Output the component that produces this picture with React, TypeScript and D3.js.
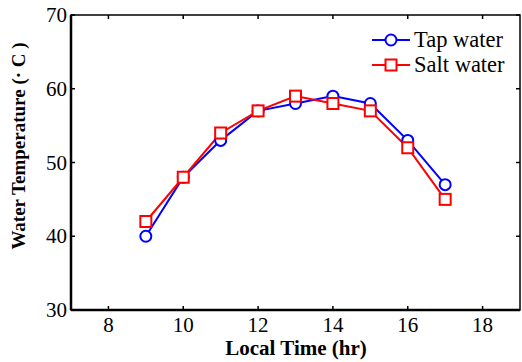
import { useEffect, useRef } from "react";
import * as d3 from "d3";

// hours of the day
const hours = [9, 10, 11, 12, 13, 14, 15, 16, 17];
const tapWater = [40, 48, 53, 57, 58, 59, 58, 53, 47];
const saltWater = [42, 48, 54, 57, 59, 58, 57, 52, 45];
const xTicks = [8, 10, 12, 14, 16, 18];
const yTicks = [30, 40, 50, 60, 70];

const App = () => {
  const svgRef = useRef<SVGSVGElement | null>(null);

  useEffect(() => {
    const svg = d3.select(svgRef.current);
    svg.selectAll("*").remove();

    const left = 71, right = 520, top = 15, bottom = 310;
    const font = "'Liberation Serif', 'Times New Roman', serif";

    const x = d3.scaleLinear().domain([7, 19]).range([left, right]);
    const y = d3.scaleLinear().domain([30, 70]).range([bottom, top]);

    // frame
    svg.append("rect")
      .attr("x", left).attr("y", top)
      .attr("width", right - left).attr("height", bottom - top)
      .attr("fill", "none").attr("stroke", "black").attr("stroke-width", 1.5);
    svg.append("line")
      .attr("x1", left).attr("x2", left).attr("y1", top).attr("y2", bottom)
      .attr("stroke", "black").attr("stroke-width", 2.5);
    svg.append("line")
      .attr("x1", left).attr("x2", right).attr("y1", bottom).attr("y2", bottom)
      .attr("stroke", "black").attr("stroke-width", 2.5);

    // ticks inward on all four sides
    xTicks.forEach((t) => {
      svg.append("line").attr("x1", x(t)).attr("x2", x(t)).attr("y1", bottom).attr("y2", bottom - 4)
        .attr("stroke", "black").attr("stroke-width", 1.5);
      svg.append("line").attr("x1", x(t)).attr("x2", x(t)).attr("y1", top).attr("y2", top + 4)
        .attr("stroke", "black").attr("stroke-width", 1.5);
      svg.append("text")
        .attr("x", x(t)).attr("y", bottom + 22)
        .attr("text-anchor", "middle")
        .style("font-family", font).style("font-size", "21px")
        .text(t);
    });
    yTicks.forEach((t) => {
      svg.append("line").attr("x1", left).attr("x2", left + 4).attr("y1", y(t)).attr("y2", y(t))
        .attr("stroke", "black").attr("stroke-width", 1.5);
      svg.append("line").attr("x1", right).attr("x2", right - 4).attr("y1", y(t)).attr("y2", y(t))
        .attr("stroke", "black").attr("stroke-width", 1.5);
      svg.append("text")
        .attr("x", left - 4).attr("y", y(t) + 7)
        .attr("text-anchor", "end")
        .style("font-family", font).style("font-size", "21px")
        .text(t);
    });

    // axis labels
    svg.append("text")
      .attr("x", 296).attr("y", 355)
      .attr("text-anchor", "middle")
      .style("font-family", font).style("font-size", "21px").style("font-weight", "bold")
      .text("Local Time (hr)");
    svg.append("text")
      .attr("transform", `translate(25,146) rotate(-90)`)
      .attr("text-anchor", "middle")
      .style("font-family", font).style("font-size", "19px").style("font-weight", "bold")
      .text("Water Temperature (\u00b7 C )");

    const line = d3.line<number>().x((_, i) => x(hours[i])).y((d) => y(d));

    const series = [
      { name: "Tap water", values: tapWater, color: "#0000ff", marker: "circle" },
      { name: "Salt water", values: saltWater, color: "#ff0000", marker: "square" },
    ];

    series.forEach((s) => {
      svg.append("path")
        .attr("d", line(s.values))
        .attr("fill", "none").attr("stroke", s.color).attr("stroke-width", 2);
    });

    const drawMarker = (g: any, cx: number, cy: number, s: any) => {
      if (s.marker === "circle") {
        g.append("circle").attr("cx", cx).attr("cy", cy).attr("r", 5.5)
          .attr("fill", "white").attr("stroke", s.color).attr("stroke-width", 2);
      } else {
        g.append("rect").attr("x", cx - 5.5).attr("y", cy - 5.5).attr("width", 11).attr("height", 11)
          .attr("fill", "white").attr("stroke", s.color).attr("stroke-width", 2);
      }
    };

    series.forEach((s) => {
      s.values.forEach((v, i) => drawMarker(svg, x(hours[i]), y(v), s));
    });

    // legend
    series.forEach((s, i) => {
      const ly = 40 + i * 25;
      svg.append("line").attr("x1", 372).attr("x2", 410).attr("y1", ly).attr("y2", ly)
        .attr("stroke", s.color).attr("stroke-width", 2);
      drawMarker(svg, 391, ly, s);
      svg.append("text")
        .attr("x", 414).attr("y", ly + 7)
        .style("font-family", font).style("font-size", "22.5px")
        .text(s.name);
    });
  }, []);

  return (
    <svg ref={svgRef} width={522} height={362}
      style={{ position: "absolute", left: 0, top: 0, background: "white" }} />
  );
};

export default App;
